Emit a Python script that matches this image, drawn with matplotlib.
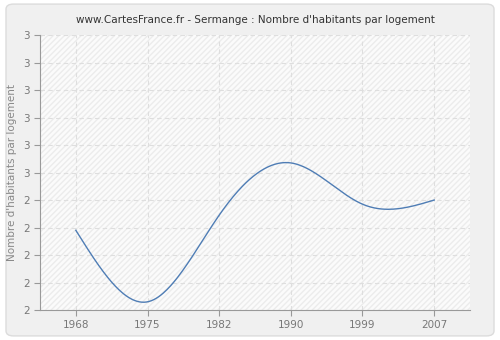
import numpy as np
import matplotlib
matplotlib.use("Agg")
import matplotlib.pyplot as plt
from matplotlib.patches import FancyBboxPatch

# données
annees = ["1968", "1975", "1982", "1990", "1999", "2007"]
valeurs = [2.29, 2.03, 2.345, 2.535, 2.385, 2.40]
y_ticks = [2.0, 2.1, 2.2, 2.3, 2.4, 2.5, 2.6, 2.7, 2.8, 2.9, 3.0]
y_labels = ["2", "2", "2", "2", "2", "3", "3", "3", "3", "3", "3"]


def spline_naturelle(x, y, n=300):
    """Spline cubique naturelle (pour le tracé lissé)"""
    x = np.asarray(x, float)
    y = np.asarray(y, float)
    k = len(x)
    h = np.diff(x)
    A = np.zeros((k, k))
    b = np.zeros(k)
    A[0, 0] = A[-1, -1] = 1
    for i in range(1, k - 1):
        A[i, i - 1] = h[i - 1]
        A[i, i] = 2 * (h[i - 1] + h[i])
        A[i, i + 1] = h[i]
        b[i] = 3 * ((y[i + 1] - y[i]) / h[i] - (y[i] - y[i - 1]) / h[i - 1])
    c = np.linalg.solve(A, b)
    xs = np.linspace(x[0], x[-1], n)
    ys = np.empty_like(xs)
    for j, xv in enumerate(xs):
        i = min(np.searchsorted(x, xv, side="right") - 1, k - 2)
        dx = xv - x[i]
        bi = (y[i + 1] - y[i]) / h[i] - h[i] * (2 * c[i] + c[i + 1]) / 3
        di = (c[i + 1] - c[i]) / (3 * h[i])
        ys[j] = y[i] + bi * dx + c[i] * dx ** 2 + di * dx ** 3
    return xs, ys


pos = np.arange(len(annees))
xs, ys = spline_naturelle(pos, valeurs)

fig = plt.figure(figsize=(5, 3.4), dpi=100)
fig.patch.set_facecolor("white")
fig.patches.append(FancyBboxPatch((0.012, 0.012), 0.976, 0.976,
                                  boxstyle="round,pad=0,rounding_size=0.015",
                                  transform=fig.transFigure,
                                  facecolor="#f0f0f0", edgecolor="#dcdcdc",
                                  linewidth=1, zorder=-10))

ax = fig.add_axes([0.08, 0.088, 0.86, 0.809])
ax.set_facecolor("#fbfbfb")
ax.add_patch(plt.Rectangle((0, 0), 1, 1, transform=ax.transAxes,
                           facecolor="none", edgecolor="#ececec",
                           hatch="//////", linewidth=0, zorder=0))

ax.plot(xs, ys, color="#4f7db5", linewidth=1.0, zorder=3)

ax.set_xlim(-0.5, 5.5)
ax.set_ylim(2.0, 3.0)
ax.set_xticks(pos)
ax.set_xticklabels(annees)
ax.set_yticks(y_ticks)
ax.set_yticklabels(y_labels)

ax.grid(True, color="#dedede", linestyle=(0, (4, 3)), linewidth=0.8)
ax.set_axisbelow(True)

for s in ["top", "right"]:
    ax.spines[s].set_visible(False)
for s in ["left", "bottom"]:
    ax.spines[s].set_color("#999999")
ax.tick_params(colors="#999999", labelcolor="#777777", labelsize=7.5,
               length=4, width=0.8)

ax.set_ylabel("Nombre d'habitants par logement", color="#888888", fontsize=7.5)
ax.set_title("www.CartesFrance.fr - Sermange : Nombre d'habitants par logement",
             fontsize=7.5, color="#333333", pad=9)

fig.savefig("out.png", dpi=100, facecolor=fig.get_facecolor())
